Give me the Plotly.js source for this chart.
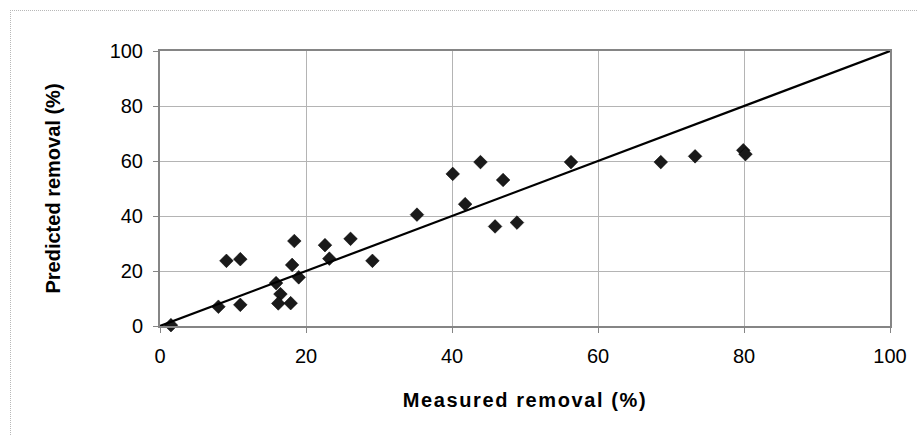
<!DOCTYPE html>
<html>
<head>
<meta charset="utf-8">
<script src="https://cdn.plot.ly/plotly-3.0.1.min.js"></script>
<style>
  html, body { margin: 0; padding: 0; background: #fff; }
  #chart { width: 917px; height: 436px; position: relative; }
  #frame { position: absolute; left: 10px; top: 10px; width: 920px; height: 440px;
           border-left: 1px dotted #b8b8b8; border-top: 1px dotted #b8b8b8; pointer-events: none; }
  .xtitle { letter-spacing: 1.6px; }
</style>
</head>
<body>
<div id="chart"></div>
<div id="frame"></div>
<script>
// Measured vs predicted removal (%)
const measured = [1.5, 8.0, 11.0, 9.1, 11.0, 15.9, 16.5, 16.2, 17.9, 18.1, 18.4, 19.0,
                  22.6, 23.2, 26.1, 29.1, 35.2, 40.1, 43.9, 41.8, 47.0, 45.9, 48.9, 56.3,
                  68.6, 73.3, 79.9, 80.2];
const predicted = [0.3, 7.0, 7.7, 23.7, 24.3, 15.6, 11.6, 8.2, 8.3, 22.2, 30.9, 17.7,
                   29.4, 24.5, 31.7, 23.7, 40.5, 55.3, 59.6, 44.3, 53.1, 36.2, 37.6, 59.6,
                   59.6, 61.7, 63.9, 62.5];
// 1:1 reference line
const lineX = [0, 100];
const lineY = [0, 100];
const tickVals = [0, 20, 40, 60, 80, 100];
const tickText = ['0', '20', '40', '60', '80', '100'];

const traces = [
  {
    x: measured, y: predicted, type: 'scatter', mode: 'markers', cliponaxis: false,
    marker: { symbol: 'diamond', size: 10.5, color: '#1a1a1a', line: { color: '#000', width: 0.5 } },
    hoverinfo: 'x+y', showlegend: false
  },
  {
    x: lineX, y: lineY, type: 'scatter', mode: 'lines', cliponaxis: false,
    line: { color: '#000', width: 2.2 }, hoverinfo: 'skip', showlegend: false
  }
];

const axisCommon = {
  range: [0, 100], tickvals: tickVals, ticktext: tickText,
  showgrid: true, gridcolor: '#b4b4b4', gridwidth: 1,
  zeroline: false, showline: true, linecolor: '#858585', linewidth: 2, mirror: true,
  ticks: 'outside', ticklen: 5, tickcolor: '#858585', tickwidth: 1,
  ticklabelstandoff: 6,
  tickfont: { family: 'Liberation Sans, Arial, sans-serif', size: 20, color: '#000' },
  fixedrange: true
};

const layout = {
  width: 917, height: 436,
  margin: { l: 160, r: 27, t: 51, b: 110 },
  paper_bgcolor: '#fff', plot_bgcolor: '#fff',
  xaxis: Object.assign({}, axisCommon, {
    title: { text: 'Measured removal (%)', standoff: 27,
             font: { family: 'Liberation Sans, Arial, sans-serif', size: 20, color: '#000', weight: 'bold' } }
  }),
  yaxis: Object.assign({}, axisCommon, {
    title: { text: 'Predicted removal (%)', standoff: 44,
             font: { family: 'Liberation Sans, Arial, sans-serif', size: 20, color: '#000', weight: 'bold' } }
  }),
  showlegend: false
};

Plotly.newPlot('chart', traces, layout, { displayModeBar: false, staticPlot: true });
</script>
</body>
</html>
